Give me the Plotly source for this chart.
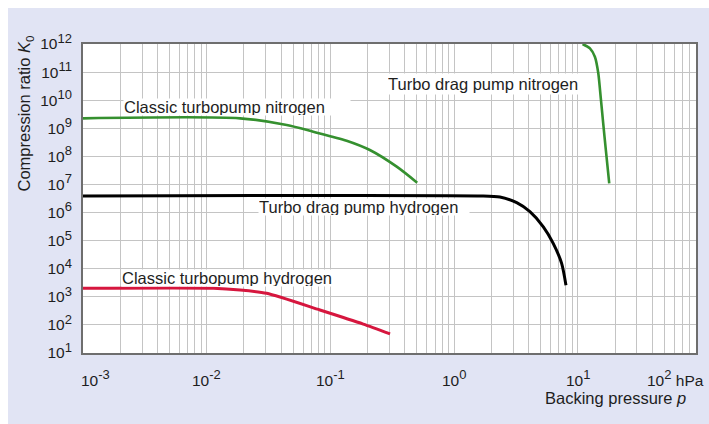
import numpy as np
import plotly.graph_objects as go

# ---------------- data (pressure in hPa, compression ratio K0) ----------------
classic_n2_p = [0.001, 0.0186, 0.0443, 0.0726, 0.135, 0.208, 0.343, 0.502]
classic_n2_k = [2.26e9, 2.26e9, 1.31e9, 7.55e8, 3.6e8, 1.68e8, 4.29e7, 1.15e7]

drag_h2_p = [0.001, 1.61, 2.34, 3.2, 4.09, 5.25, 6.31, 7.38, 8.0]
drag_h2_k = [3.9e6, 3.9e6, 3.55e6, 2.24e6, 1.07e6, 3.1e5, 8.0e4, 1.55e4, 2.6e3]

classic_h2_p = [0.001, 0.0113, 0.0186, 0.0305, 0.0822, 0.184, 0.303]
classic_h2_k = [2000, 2000, 1740, 1330, 339, 107, 48]

drag_n2_p = [10.9, 12.5, 13.7, 14.6, 15.3, 16.0, 16.8, 17.9]
drag_n2_k = [1e12, 7.0e11, 3.5e11, 9.1e10, 1.17e10, 1.5e9, 1.7e8, 1.1e7]

x_tick_vals = [1e-3, 1e-2, 1e-1, 1e0, 1e1]
x_tick_exps = ["-3", "-2", "-1", "0", "1"]
y_tick_exps = list(range(1, 13))

labels = [
    # text, x (hPa), y (K0), box width, box height
    ("Classic turbopump nitrogen", 0.00210, 5.9e9, 226, 16),
    ("Turbo drag pump nitrogen", 0.286, 3.8e10, 198, 20),
    ("Turbo drag pump hydrogen", 0.0259, 1.57e6, 210, 16),
    ("Classic turbopump hydrogen", 0.00202, 4.68e3, 226, 16),
]

GREEN = "#35902f"
RED = "#d6163e"
BLACK = "#000000"
TXT = "#1e1e1e"
BG = "#e1e4f4"
FONT = "Liberation Sans, Arial, sans-serif"


def pw(e):
    return "10<sup><span style='font-size:13px'>%s</span></sup>" % e


fig = go.Figure()
for xs, ys, col, w, sm in [
    (classic_n2_p, classic_n2_k, GREEN, 2.6, 0.8),
    (drag_h2_p, drag_h2_k, BLACK, 3.0, 0.7),
    (classic_h2_p, classic_h2_k, RED, 3.0, 0.6),
    (drag_n2_p, drag_n2_k, GREEN, 2.6, 0.6),
]:
    fig.add_trace(go.Scatter(x=xs, y=ys, mode="lines",
                             line=dict(color=col, width=w, shape="spline", smoothing=sm),
                             hoverinfo="skip", showlegend=False))

annotations = []
for text, x, y, w, h in labels:
    annotations.append(dict(x=np.log10(x), y=np.log10(y), xref="x", yref="y",
                            text=text, showarrow=False, xanchor="left", yanchor="middle",
                            align="left", valign="middle", width=w, height=h,
                            bgcolor="white", borderpad=0,
                            font=dict(family=FONT, size=16.5, color=TXT)))

for i, (v, e) in enumerate(zip(x_tick_vals, x_tick_exps)):
    annotations.append(dict(x=np.log10(v), y=-0.081, xref="x", yref="paper",
                            text=pw(e), showarrow=False, xanchor="center", yanchor="middle",
                            xshift=12 if i == 0 else 0,
                            font=dict(family=FONT, size=15.5, color=TXT)))
annotations.append(dict(x=1.0163, y=-0.081, xref="paper", yref="paper",
                        text=pw("2") + " hPa", showarrow=False, xanchor="right",
                        yanchor="middle", font=dict(family=FONT, size=15.5, color=TXT)))
annotations.append(dict(x=0.987, y=-0.1456, xref="paper", yref="paper",
                        text="Backing pressure <i>p</i>", showarrow=False, xanchor="right",
                        yanchor="middle", font=dict(family=FONT, size=16.5, color=TXT)))
annotations.append(dict(x=-0.0946, y=0.775, xref="paper", yref="paper",
                        text="Compression ratio <i>K</i><sub>0</sub>", showarrow=False,
                        textangle=-90, xanchor="center", yanchor="middle",
                        font=dict(family=FONT, size=16.5, color=TXT)))

# white page border strips (top and left) around the tinted panel
shapes = [
    dict(type="rect", xref="paper", yref="paper", x0=-0.14, x1=1.03, y0=1.1165, y1=1.15,
         fillcolor="white", line_width=0, layer="below"),
    dict(type="rect", xref="paper", yref="paper", x0=-0.14, x1=-0.1223, y0=-0.24, y1=1.15,
         fillcolor="white", line_width=0, layer="below"),
]

fig.update_layout(
    width=709, height=424, autosize=False,
    margin=dict(l=83, r=13, t=44, b=71),
    paper_bgcolor=BG, plot_bgcolor="white",
    font=dict(family=FONT, size=15.5, color=TXT),
    annotations=annotations, shapes=shapes,
    xaxis=dict(type="log", range=[-3, 1.954], dtick=1, showticklabels=False,
               showgrid=True, gridcolor="#c4c4c4", gridwidth=1,
               minor=dict(dtick="D1", showgrid=True, gridcolor="#c4c4c4", gridwidth=1),
               showline=True, linecolor="#6e6e6e", linewidth=2, mirror=True,
               ticks="", zeroline=False, fixedrange=True),
    yaxis=dict(type="log", range=[1, 12], tickmode="array",
               tickvals=[10.0 ** e for e in y_tick_exps],
               ticktext=[pw(e) for e in y_tick_exps],
               showgrid=True, gridcolor="#c4c4c4", gridwidth=1,
               showline=True, linecolor="#6e6e6e", linewidth=2, mirror=True,
               ticks="", ticklabelstandoff=6, zeroline=False,
               tickfont=dict(family=FONT, size=15.5, color=TXT), fixedrange=True),
)

fig.write_html("out.html", config={"displayModeBar": False},
               post_script="document.body.style.margin='0';"
                           "document.documentElement.style.overflow='hidden';"
                           "document.body.style.overflow='hidden';")
